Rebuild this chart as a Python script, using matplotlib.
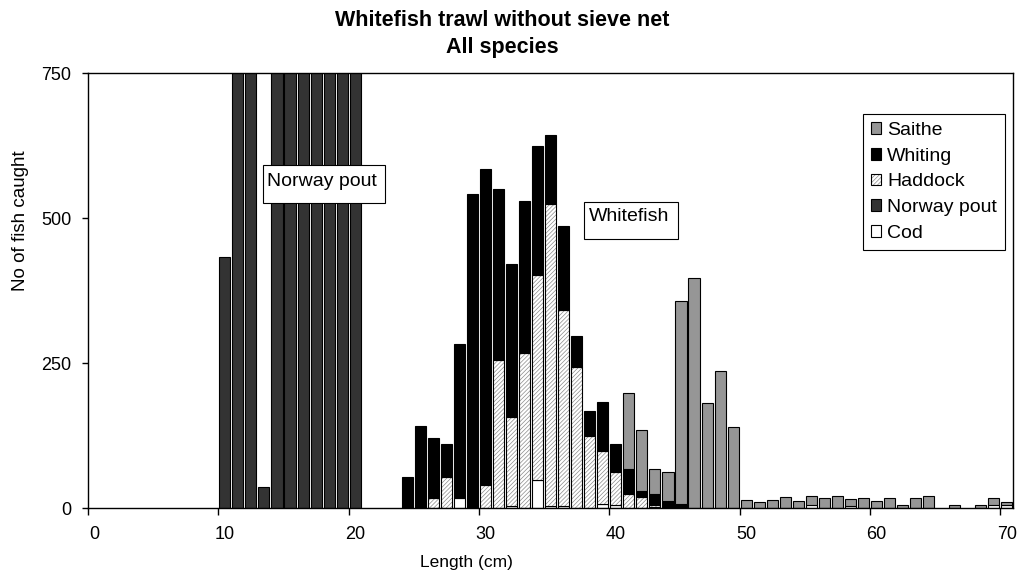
import numpy as np
import matplotlib
matplotlib.use("Agg")
import matplotlib.pyplot as plt
from matplotlib.patches import Patch, Rectangle

# length classes (cm), one bar per class
lengths = list(range(10, 71))

# numbers per class, 10..70 cm; Norway pout values above 750 run off the top of the chart
cod = [0, 0, 0, 0, 0, 0, 0, 0, 0, 0,
       0, 0, 0, 0, 0, 0, 0, 0, 17, 0,
       0, 0, 4, 0, 48, 4, 4, 0, 0, 7,
       5, 0, 0, 3, 0, 3, 0, 0, 0, 0,
       0, 0, 0, 0, 0, 5, 0, 0, 4, 0,
       0, 0, 0, 0, 0, 0, 0, 0, 0, 6,
       6]
norway_pout = [433, 1100, 1000, 36, 1200, 1300, 1250, 1150, 1050, 950,
               900, 0, 0, 0, 0, 0, 0, 0, 0, 0,
               0, 0, 0, 0, 0, 0, 0, 0, 0, 0,
               0, 0, 0, 0, 0, 0, 0, 0, 0, 0,
               0, 0, 0, 0, 0, 0, 0, 0, 0, 0,
               0, 0, 0, 0, 0, 0, 0, 0, 0, 0,
               0]
haddock = [0, 0, 0, 0, 0, 0, 0, 0, 0, 0,
           0, 0, 0, 0, 0, 0, 17, 54, 0, 0,
           40, 255, 154, 268, 354, 521, 338, 244, 124, 92,
           58, 24, 19, 3, 0, 0, 0, 0, 0, 0,
           0, 0, 0, 0, 0, 0, 0, 0, 0, 0,
           0, 0, 0, 0, 0, 0, 0, 0, 0, 0,
           0]
whiting = [0, 0, 0, 0, 0, 0, 0, 0, 0, 0,
           0, 0, 0, 0, 54, 142, 105, 57, 266, 541,
           545, 295, 263, 262, 223, 119, 144, 53, 44, 85,
           48, 43, 11, 19, 13, 4, 0, 0, 0, 0,
           0, 0, 0, 0, 0, 0, 0, 0, 0, 0,
           0, 0, 0, 0, 0, 0, 0, 0, 0, 0,
           0]
saithe = [0, 0, 0, 0, 0, 0, 0, 0, 0, 0,
          0, 0, 0, 0, 0, 0, 0, 0, 0, 0,
          0, 0, 0, 0, 0, 0, 0, 0, 0, 0,
          0, 131, 105, 43, 50, 350, 397, 182, 237, 140,
          15, 10, 14, 19, 13, 17, 18, 22, 12, 17,
          12, 17, 6, 17, 22, 0, 6, 0, 6, 11,
          5]

x_ticks = [0, 10, 20, 30, 40, 50, 60, 70]
y_ticks = [0, 250, 500, 750]

FONT = "Liberation Sans"
plt.rcParams["font.family"] = [FONT, "DejaVu Sans"]
plt.rcParams["hatch.linewidth"] = 0.5
HATCH = "////////"
HATCH_COLOR = "#8a8a8a"


def stacked(ax, x, vals, bottom, **kw):
    vals = np.array(vals, dtype=float)
    m = vals > 0
    ax.bar(x[m], vals[m], bottom=bottom[m], width=0.85, align="center", **kw)
    return bottom + vals


def main():
    fig = plt.figure(figsize=(10.21, 5.77), dpi=100)
    ax = fig.add_axes([0.0862, 0.1191, 0.9063, 0.7539])

    x = np.array(lengths) + 0.5
    bottom = np.zeros(len(lengths))
    edge = dict(edgecolor="black", linewidth=0.8)

    bottom = stacked(ax, x, cod, bottom, color="white", **edge)
    bottom = stacked(ax, x, norway_pout, bottom, color="#333333", **edge)
    # haddock: grey hatch, then a black outline on top
    stacked(ax, x, haddock, bottom, facecolor="white", edgecolor=HATCH_COLOR,
            linewidth=0, hatch=HATCH)
    bottom = stacked(ax, x, haddock, bottom, fill=False, **edge)
    bottom = stacked(ax, x, whiting, bottom, color="black", **edge)
    bottom = stacked(ax, x, saithe, bottom, color="#969696", **edge)

    ax.set_xlim(0, 71)
    ax.set_ylim(0, 750)

    ax.set_xticks(x_ticks)
    ax.set_xticklabels([])
    ax.set_xticks([t + 0.5 for t in x_ticks], minor=True)
    ax.set_xticklabels([str(t) for t in x_ticks], minor=True)
    ax.tick_params(axis="x", which="major", length=5, width=1, direction="out")
    ax.tick_params(axis="x", which="minor", length=0, pad=13, labelsize=13)
    ax.set_yticks(y_ticks)
    ax.tick_params(axis="y", length=4, width=1, pad=8, labelsize=13)
    for s in ax.spines.values():
        s.set_linewidth(1)
        s.set_color("black")

    # text boxes in the plot
    ax.add_patch(Rectangle((13.4, 527), 9.4, 65, facecolor="white",
                           edgecolor="black", linewidth=0.8, zorder=5))
    ax.text(13.75, 556, "Norway pout", fontsize=14, va="baseline", ha="left", zorder=6)
    ax.add_patch(Rectangle((38.07, 464), 7.2, 64.5, facecolor="white",
                           edgecolor="black", linewidth=0.8, zorder=5))
    ax.text(38.4, 496, "Whitefish", fontsize=14, va="baseline", ha="left", zorder=6)

    # legend
    handles = [
        Patch(facecolor="#969696", edgecolor="black", linewidth=0.8),
        Patch(facecolor="black", edgecolor="black", linewidth=0.8),
        (Patch(facecolor="white", edgecolor=HATCH_COLOR, linewidth=0, hatch=HATCH),
         Patch(fill=False, edgecolor="black", linewidth=0.8)),
        Patch(facecolor="#333333", edgecolor="black", linewidth=0.8),
        Patch(facecolor="white", edgecolor="black", linewidth=0.8),
    ]
    labels = ["Saithe", "Whiting", "Haddock", "Norway pout", "Cod"]
    leg = fig.legend(handles, labels, loc="upper left",
                     bbox_to_anchor=(863 / 1021, 1 - 114 / 577),
                     fontsize=14, handlelength=0.55, handleheight=0.55,
                     handletextpad=0.3, labelspacing=0.45, borderpad=0.4,
                     borderaxespad=0, fancybox=False, framealpha=1)
    leg.get_frame().set_edgecolor("black")
    leg.get_frame().set_linewidth(0.8)

    fig.text(502 / 1021, 1 - 26 / 577, "Whitefish trawl without sieve net",
             ha="center", va="baseline", fontsize=15.5, fontweight="bold")
    fig.text(502 / 1021, 1 - 53 / 577, "All species",
             ha="center", va="baseline", fontsize=15.5, fontweight="bold")
    fig.text(21 / 1021, 1 - 221 / 577, "No of fish caught", rotation=90,
             ha="center", va="center", fontsize=13.5)
    fig.text(466 / 1021, 1 - 563 / 577, "Length (cm)",
             ha="center", va="center", fontsize=12.5)

    fig.savefig("out.png", dpi=100)


if __name__ == "__main__":
    main()
